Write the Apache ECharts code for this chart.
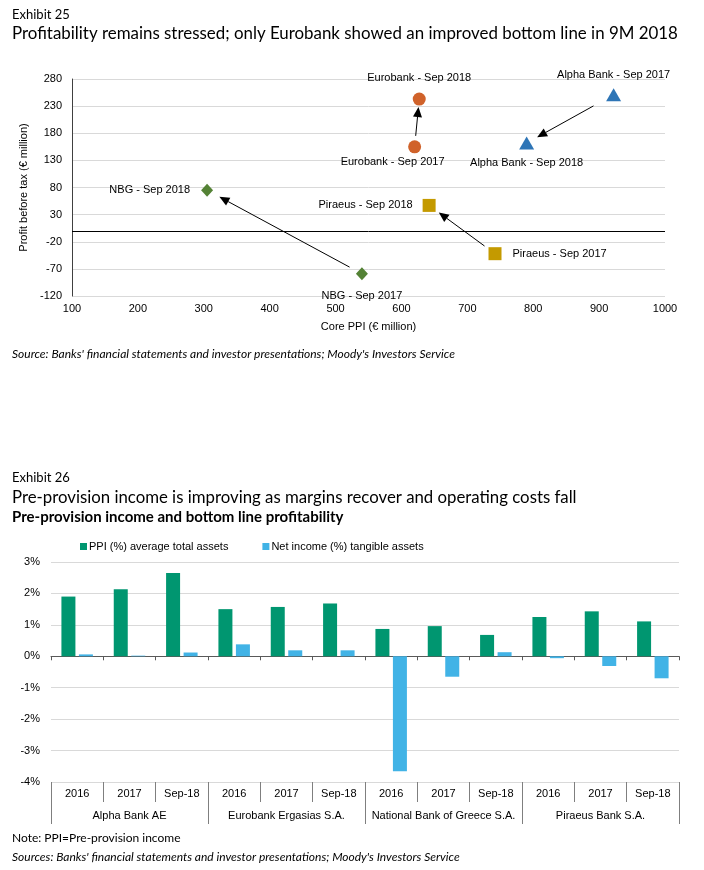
<!DOCTYPE html>
<html><head><meta charset="utf-8">
<script src="https://cdn.jsdelivr.net/npm/echarts@6/dist/echarts.min.js"></script>
<style>html,body{margin:0;padding:0;background:#fff}#c{width:704px;height:870px}</style>
</head><body><div id="c"></div>
<script>
// ---- Exhibit 25 data ----
const banks = ['NBG', 'Eurobank', 'Alpha Bank', 'Piraeus'];
const corePpiSep2017 = [540, 620, 922, 742];
const pbtSep2017 = [-79, 155, 251, -42];
const corePpiSep2018 = [305, 627, 790, 642];
const pbtSep2018 = [75, 243, 162, 47];
const xTicks = { min: 100, max: 1000, step: 100 };
const yTicks = { min: -120, max: 280, step: 50 };

// ---- Exhibit 26 data ----
const periods = ['2016', '2017', 'Sep-18', '2016', '2017', 'Sep-18', '2016', '2017', 'Sep-18', '2016', '2017', 'Sep-18'];
const bankGroups = ['Alpha Bank AE', 'Eurobank Ergasias S.A.', 'National Bank of Greece S.A.', 'Piraeus Bank S.A.'];
const ppiPct = [1.90, 2.13, 2.65, 1.50, 1.57, 1.68, 0.87, 0.96, 0.68, 1.25, 1.43, 1.11];
const netIncomePct = [0.06, 0.02, 0.12, 0.38, 0.19, 0.19, -3.66, -0.65, 0.13, -0.06, -0.31, -0.70];
const pctTicks = { min: -4, max: 3, step: 1 };

// ---- styles / layout (not data) ----
const bankStyle = [
  { symbol: 'diamond', size: [12, 13], color: '#548235' },
  { symbol: 'circle', size: 13, color: '#D0622A' },
  { symbol: 'triangle', size: [15, 13], color: '#2E75B6' },
  { symbol: 'rect', size: 13, color: '#C49A00' }
];
const labelLayout2017 = [
  { position: 'bottom', distance: 10, offset: [0, 0] },
  { position: 'bottom', distance: 3, offset: [-22, 0] },
  { position: 'top', distance: 8, offset: [0, 0] },
  { position: 'right', distance: 11, offset: [0, 0] }
];
const labelLayout2018 = [
  { position: 'left', distance: 11, offset: [0, 0] },
  { position: 'top', distance: 9, offset: [0, 0] },
  { position: 'bottom', distance: 8, offset: [0, 0] },
  { position: 'left', distance: 10, offset: [0, 0] }
];
const arrowGaps = [[14, 14], [11, 8], [23, 12], [13, 12]];

const F = 'Liberation Sans, Arial, sans-serif';
const TF = 'Lato, Noto Sans, sans-serif';
const gridGray = '#d9d9d9';

const chart = echarts.init(document.getElementById('c'), null, { renderer: 'canvas' });

const scatterSeries = banks.map((b, i) => ({
  type: 'scatter', name: b, xAxisIndex: 0, yAxisIndex: 0,
  symbol: bankStyle[i].symbol, symbolSize: bankStyle[i].size,
  itemStyle: { color: bankStyle[i].color, opacity: 1 },
  label: { show: true, color: '#000', fontFamily: F, fontSize: 11 },
  emphasis: { disabled: true },
  data: [
    { value: [corePpiSep2017[i], pbtSep2017[i]], label: { formatter: b + ' - Sep 2017', position: labelLayout2017[i].position, distance: labelLayout2017[i].distance, offset: labelLayout2017[i].offset } },
    { value: [corePpiSep2018[i], pbtSep2018[i]], label: { formatter: b + ' - Sep 2018', position: labelLayout2018[i].position, distance: labelLayout2018[i].distance, offset: labelLayout2018[i].offset } }
  ],
  z: 3
}));

const arrowSeries = {
  type: 'custom', xAxisIndex: 0, yAxisIndex: 0, silent: true, z: 2,
  encode: { x: [0, 2], y: [1, 3] },
  data: banks.map((b, i) => [corePpiSep2017[i], pbtSep2017[i], corePpiSep2018[i], pbtSep2018[i]]),
  renderItem: function (params, api) {
    const p0 = api.coord([api.value(0), api.value(1)]);
    const p1 = api.coord([api.value(2), api.value(3)]);
    const g = arrowGaps[params.dataIndex];
    const dx = p1[0] - p0[0], dy = p1[1] - p0[1];
    const L = Math.sqrt(dx * dx + dy * dy), ux = dx / L, uy = dy / L;
    const s = [p0[0] + ux * g[0], p0[1] + uy * g[0]];
    const e = [p1[0] - ux * g[1], p1[1] - uy * g[1]];
    const hl = 10, hw = 4.5;
    const bse = [e[0] - ux * hl, e[1] - uy * hl];
    const px = -uy, py = ux;
    return {
      type: 'group', children: [
        { type: 'line', shape: { x1: s[0], y1: s[1], x2: bse[0], y2: bse[1] }, style: { stroke: '#000', lineWidth: 1 } },
        { type: 'polygon', shape: { points: [e, [bse[0] + px * hw, bse[1] + py * hw], [bse[0] - px * hw, bse[1] - py * hw]] }, style: { fill: '#000' } }
      ]
    };
  }
};

const zeroLineSeries = {
  type: 'line', xAxisIndex: 0, yAxisIndex: 0, data: [], silent: true,
  markLine: { symbol: 'none', silent: true, label: { show: false }, lineStyle: { color: '#000', width: 1, type: 'solid' }, data: [{ yAxis: 0 }], animation: false }
};

const option = {
  animation: false,
  backgroundColor: '#fff',
  title: [
    { text: 'Exhibit 25', left: 12, top: 8, padding: 0, textStyle: { fontFamily: TF, fontSize: 13, fontWeight: 'normal', color: '#000' } },
    { text: 'Profitability remains stressed; only Eurobank showed an improved bottom line in 9M 2018', left: 12, top: 25, padding: 0, textStyle: { fontFamily: TF, fontSize: 16.9, fontWeight: 'normal', color: '#000' } },
    { text: "Source: Banks' financial statements and investor presentations; Moody's Investors Service", left: 12, top: 348, padding: 0, textStyle: { fontFamily: TF, fontSize: 12, fontStyle: 'italic', fontWeight: 'normal', color: '#000' } },
    { text: 'Exhibit 26', left: 12, top: 471, padding: 0, textStyle: { fontFamily: TF, fontSize: 13, fontWeight: 'normal', color: '#000' } },
    { text: 'Pre-provision income is improving as margins recover and operating costs fall', left: 12, top: 489, padding: 0, textStyle: { fontFamily: TF, fontSize: 16.8, fontWeight: 'normal', color: '#000' } },
    { text: 'Pre-provision income and bottom line profitability', left: 12, top: 510, padding: 0, textStyle: { fontFamily: TF, fontSize: 15, fontWeight: 'bold', color: '#000' } },
    { text: 'Note: PPI=Pre-provision income', left: 12, top: 832, padding: 0, textStyle: { fontFamily: TF, fontSize: 12, fontWeight: 'normal', color: '#000' } },
    { text: "Sources: Banks' financial statements and investor presentations; Moody's Investors Service", left: 12, top: 851, padding: 0, textStyle: { fontFamily: TF, fontSize: 12, fontStyle: 'italic', fontWeight: 'normal', color: '#000' } }
  ],
  legend: {
    data: ['PPI (%) average total assets', 'Net income (%) tangible assets'],
    left: 80, top: 541, itemWidth: 7, itemHeight: 7, itemGap: 34, padding: 0,
    icon: 'rect',
    textStyle: { fontFamily: F, fontSize: 11, color: '#000', padding: [0, 0, 0, -3] }
  },
  grid: [
    { left: 72, right: 39, top: 79, height: 217 },
    { left: 51, right: 25, top: 562, height: 220 }
  ],
  xAxis: [
    {
      type: 'value', gridIndex: 0, min: xTicks.min, max: xTicks.max, interval: xTicks.step,
      name: 'Core PPI (€ million)', nameLocation: 'middle', nameGap: 25,
      nameTextStyle: { fontFamily: F, fontSize: 11, color: '#000' },
      axisLine: { show: false, onZero: false }, axisTick: { show: false },
      axisLabel: { fontFamily: F, fontSize: 11, color: '#000', margin: 7, formatter: v => String(v) },
      splitLine: { show: false }
    },
    {
      type: 'category', gridIndex: 1, data: periods,
      axisLine: { show: true, onZero: true, lineStyle: { color: '#595959', width: 1 } },
      axisTick: { show: true, length: 4, interval: 0, lineStyle: { color: '#595959' } },
      axisLabel: { show: false }, splitLine: { show: false }
    },
    {
      type: 'category', gridIndex: 1, data: periods, position: 'bottom',
      axisLine: { show: false, onZero: false },
      axisTick: { show: true, length: 20, interval: 0, lineStyle: { color: '#7f7f7f' } },
      axisLabel: { show: true, interval: 0, margin: 6, fontFamily: F, fontSize: 11, color: '#000' },
      splitLine: { show: false }
    },
    {
      type: 'category', gridIndex: 1, data: bankGroups, position: 'bottom', offset: 20,
      axisLine: { show: false, onZero: false },
      axisTick: { show: true, length: 22, interval: 0, lineStyle: { color: '#7f7f7f' } },
      axisLabel: { show: true, interval: 0, margin: 8, fontFamily: F, fontSize: 11, color: '#000' },
      splitLine: { show: false }
    }
  ],
  yAxis: [
    {
      type: 'value', gridIndex: 0, min: yTicks.min, max: yTicks.max, interval: yTicks.step,
      name: 'Profit before tax (€ million)', nameLocation: 'middle', nameGap: 38, nameRotate: 90,
      nameTextStyle: { fontFamily: F, fontSize: 11, color: '#000' },
      axisLine: { show: true, lineStyle: { color: '#404040', width: 1 } }, axisTick: { show: false },
      axisLabel: { fontFamily: F, fontSize: 11, color: '#000', margin: 10 },
      splitLine: { show: true, lineStyle: { color: gridGray, width: 1 } }
    },
    {
      type: 'value', gridIndex: 1, min: pctTicks.min, max: pctTicks.max, interval: pctTicks.step,
      axisLine: { show: false }, axisTick: { show: false },
      axisLabel: { fontFamily: F, fontSize: 11, color: '#000', margin: 11, formatter: '{value}%' },
      splitLine: { show: true, lineStyle: { color: gridGray, width: 1 } }
    }
  ],
  series: [
    zeroLineSeries,
    arrowSeries,
    ...scatterSeries,
    {
      type: 'bar', name: 'PPI (%) average total assets', xAxisIndex: 1, yAxisIndex: 1,
      data: ppiPct, barWidth: 14, barGap: '25%', itemStyle: { color: '#009670' }
    },
    {
      type: 'bar', name: 'Net income (%) tangible assets', xAxisIndex: 1, yAxisIndex: 1,
      data: netIncomePct, barWidth: 14, barGap: '25%', itemStyle: { color: '#41B3E6' }
    }
  ]
};
chart.setOption(option);
</script></body></html>
